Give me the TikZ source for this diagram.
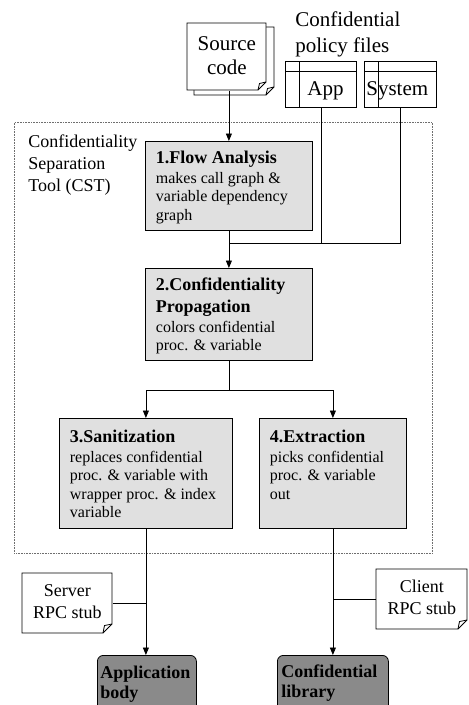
\documentclass[tikz,border=0pt]{standalone}
\usepackage{fontspec}
\setmainfont{Liberation Serif}
\usetikzlibrary{arrows.meta,calc}
\definecolor{stepfill}{RGB}{224,224,224}
\definecolor{outfill}{RGB}{138,138,138}
\definecolor{framegray}{RGB}{110,110,110}
% fixed-size text block: height, width, leftskip, first-baseline strut, font setup, content
\newcommand\fixblock[6]{\parbox[t][#1][t]{#2}{#5\leftskip=#3\relax\rule{0pt}{#4}#6\par}}
% step box content: height, width, strut, title, body
\newcommand\steptext[5]{\parbox[t][#1][t]{#2}{\raggedright\leftskip=10.5pt\relax
  \fontsize{18}{22}\selectfont\bfseries\rule{0pt}{#3}#4\par
  \vspace{1.5pt}\fontsize{16}{18.5}\selectfont\mdseries #5\par}}
\begin{document}
\begin{tikzpicture}[x=1pt,y=-1pt,
  line width=0.8pt,
  stepbox/.style={draw, fill=stepfill, inner sep=0pt, anchor=north west},
  outbox/.style={draw, fill=outfill, rounded corners=6pt, inner sep=0pt, anchor=north west},
  plain/.style={inner sep=0pt, anchor=north west},
  filebox/.style={draw, inner sep=0pt, anchor=north west},
  arrowline/.style={-{Triangle[length=7.5pt,width=6pt]}},
  docline/.style={draw, fill=white}]
\clip (0,0) rectangle (469,705);

% CST dotted frame
\node[plain, draw=framegray, dash pattern=on 0.8pt off 0.8pt, minimum width=418pt, minimum height=431pt] (frame) at (14,122) {};
\node[plain] (cstlbl) at (28,125) {\fixblock{70pt}{120pt}{0pt}{22pt}{\raggedright\fontsize{18}{22}\selectfont}{Confidentiality\\Separation\\Tool (CST)}};

% Source code (two stacked sheets)
\draw[docline] (194,27) -- (274,27) -- (274,87) -- (266,95) -- (194,95) -- cycle;
\draw[docline] (187,23) -- (266,23) -- (266,82) -- (258,90) -- (187,90) -- cycle;
\draw (258,90) -- (259.5,83.5) -- (266,82);
\draw (266,95) -- (267.5,88.5) -- (274,87);
\node[plain] (src) at (187,23) {\fixblock{67pt}{79pt}{0pt plus 1fil}{27pt}{\centering\fontsize{21}{24}\selectfont}{Source\\code}};

% Confidential policy files
\node[plain] (pollbl) at (295,0) {\fixblock{55pt}{140pt}{0pt}{26pt}{\raggedright\fontsize{21}{26}\selectfont}{Confidential\\policy files}};
\node[filebox] (app) at (285,61) {\fixblock{46pt}{71pt}{22pt}{34pt}{\raggedright\fontsize{21}{24}\selectfont}{App}};
\node[filebox] (sys) at (364,61) {\fixblock{46pt}{72pt}{2pt}{34pt}{\raggedright\fontsize{21}{24}\selectfont}{System}};
\draw (app.north west) ++(0,10) -- ++(71,0);
\draw (app.north west) ++(14,0) -- ++(0,46);
\draw (sys.north west) ++(0,10) -- ++(72,0);
\draw (sys.north west) ++(14,0) -- ++(0,46);

% Steps
\node[stepbox] (b1) at (145,141) {\steptext{89pt}{167pt}{22pt}{1.Flow Analysis}{makes call graph \&\\variable dependency\\graph}};
\node[stepbox] (b2) at (145,268) {\steptext{92pt}{167pt}{22pt}{2.Confidentiality\\Propagation}{colors confidential\\proc. \& variable}};
\node[stepbox] (b3) at (59,418) {\steptext{110pt}{173pt}{24pt}{3.Sanitization}{replaces confidential\\proc. \& variable with\\wrapper proc. \& index\\variable}};
\node[stepbox] (b4) at (259,418) {\steptext{110pt}{147pt}{24pt}{4.Extraction}{picks confidential\\proc. \& variable\\out}};

% RPC stubs
\draw[docline] (22,573) -- (112,573) -- (112,624) -- (103,633) -- (22,633) -- cycle;
\draw (103,633) -- (104.5,625.5) -- (112,624);
\node[plain] (srv) at (22,573) {\fixblock{60pt}{90pt}{0pt plus 1fil}{23pt}{\centering\fontsize{18}{22}\selectfont}{Server\\RPC stub}};
\draw[docline] (376,569) -- (467,569) -- (467,620) -- (458,629) -- (376,629) -- cycle;
\draw (458,629) -- (459.5,621.5) -- (467,620);
\node[plain] (cli) at (376,569) {\fixblock{60pt}{91pt}{0pt plus 1fil}{23pt}{\centering\fontsize{18}{22}\selectfont}{Client\\RPC stub}};

% Outputs
\node[outbox] (appb) at (97,655) {\fixblock{62pt}{99pt}{3pt}{23pt}{\raggedright\fontsize{18}{20}\selectfont\bfseries}{Application\\body}};
\node[outbox] (conf) at (277,655) {\fixblock{62pt}{111pt}{4pt}{22pt}{\raggedright\fontsize{18}{20}\selectfont\bfseries}{Confidential\\library}};

% Connectors
\coordinate (j) at ($(b1.south)!0.342!(b2.north)$);
\coordinate (split) at ($(b2.south)+(0,30)$);
\draw[arrowline] (src.south -| b1.north) -- (b1.north);
\draw (app.south) |- (j);
\draw (sys.south) |- (j);
\draw[arrowline] (b1.south) -- (b2.north);
\draw[arrowline] (b2.south) -- (split) -| (b3.north);
\draw[arrowline] (split) -| (b4.north);
\draw[arrowline] (b3.south) -- (b3.south |- appb.north);
\draw[arrowline] (b4.south) -- (b4.south |- conf.north);
\draw (srv.east) -- (srv.east -| b3.south);
\draw (cli.west) -- (cli.west -| b4.south);
\end{tikzpicture}
\end{document}
